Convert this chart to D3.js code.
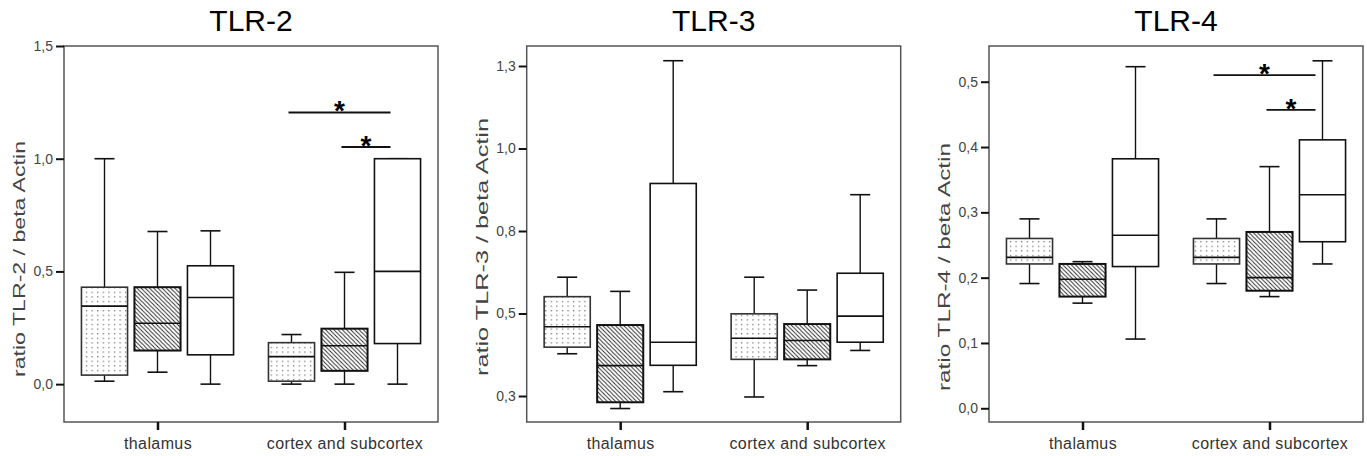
<!DOCTYPE html>
<html>
<head>
<meta charset="utf-8">
<script src="https://cdn.jsdelivr.net/npm/d3@7"></script>
<style>
  html, body { margin: 0; padding: 0; background: #fff; }
  svg { display: block; font-family: "Liberation Sans", Arial, sans-serif; }
</style>
</head>
<body>
<svg id="chart" width="1367" height="456"></svg>
<script>
// ---------------- data ----------------
const categories = ["thalamus", "cortex and subcortex"];
const series = ["dotted", "hatched", "plain"];

// box stats: [min, q1, median, q3, max] per series, per category
const tlr2Thalamus = [[0.013, 0.04, 0.346, 0.43, 1.0], [0.053, 0.149, 0.27, 0.43, 0.677], [0.0, 0.13, 0.384, 0.525, 0.68]];
const tlr2Cortex   = [[0.0, 0.013, 0.122, 0.184, 0.22], [0.0, 0.059, 0.17, 0.246, 0.496], [0.0, 0.18, 0.5, 1.0, 1.0]];
const tlr3Thalamus = [[0.378, 0.398, 0.46, 0.551, 0.61], [0.212, 0.231, 0.342, 0.465, 0.567], [0.263, 0.343, 0.413, 0.894, 1.266]];
const tlr3Cortex   = [[0.247, 0.361, 0.425, 0.499, 0.61], [0.342, 0.361, 0.418, 0.468, 0.571], [0.388, 0.413, 0.492, 0.622, 0.86]];
const tlr4Thalamus = [[0.191, 0.221, 0.231, 0.26, 0.29], [0.161, 0.171, 0.1975, 0.221, 0.2245], [0.106, 0.217, 0.265, 0.382, 0.523]];
const tlr4Cortex   = [[0.191, 0.221, 0.231, 0.26, 0.29], [0.171, 0.18, 0.2, 0.27, 0.37], [0.221, 0.255, 0.327, 0.411, 0.532]];

const tlr2Ticks = [0, 0.5, 1.0, 1.5];
const tlr2TickLabels = ["0,0", "0,5", "1,0", "1,5"];
const tlr3Ticks = [0.25, 0.5, 0.75, 1.0, 1.25];
const tlr3TickLabels = ["0,3", "0,5", "0,8", "1,0", "1,3"];
const tlr4Ticks = [0, 0.1, 0.2, 0.3, 0.4, 0.5];
const tlr4TickLabels = ["0,0", "0,1", "0,2", "0,3", "0,4", "0,5"];

// significance bars: [category index, from series, to series, value]
const tlr2Sig = [[1, 0, 2, 1.205], [1, 1, 2, 1.052]];
const tlr4Sig = [[1, 0, 2, 0.51], [1, 1, 2, 0.457]];

const titles = ["TLR-2", "TLR-3", "TLR-4"];
const yLabels = ["ratio TLR-2 / beta Actin", "ratio TLR-3 / beta Actin", "ratio TLR-4 / beta Actin"];

// ---------------- layout ----------------
const panels = [
  { title: titles[0], ylabel: yLabels[0], left: 64,    domain: [-0.168, 1.5],    ticks: tlr2Ticks, tickLabels: tlr2TickLabels, data: [tlr2Thalamus, tlr2Cortex], sig: tlr2Sig, labelY: 259, labelLen: 236 },
  { title: titles[1], ylabel: yLabels[1], left: 526.7, domain: [0.1712, 1.3106], ticks: tlr3Ticks, tickLabels: tlr3TickLabels, data: [tlr3Thalamus, tlr3Cortex], sig: [],      labelY: 247, labelLen: 258 },
  { title: titles[2], ylabel: yLabels[2], left: 989,   domain: [-0.021, 0.5547], ticks: tlr4Ticks, tickLabels: tlr4TickLabels, data: [tlr4Thalamus, tlr4Cortex], sig: tlr4Sig, labelY: 267, labelLen: 248 }
];
const frameW = 374, frameTop = 46, frameBottom = 422;

const svg = d3.select("#chart");
const defs = svg.append("defs");

// dotted pattern
const pd = defs.append("pattern").attr("id", "dots").attr("patternUnits", "userSpaceOnUse")
  .attr("width", 5.6).attr("height", 4.6);
pd.append("rect").attr("width", 5.6).attr("height", 4.6).attr("fill", "#fff");
pd.append("rect").attr("x", 2).attr("y", 2).attr("width", 1.1).attr("height", 1.1).attr("fill", "#444");

// hatched pattern (lines going down-right)
const ph = defs.append("pattern").attr("id", "hatch").attr("patternUnits", "userSpaceOnUse")
  .attr("width", 4.2).attr("height", 4.2);
ph.append("rect").attr("width", 4.2).attr("height", 4.2).attr("fill", "#fff");
ph.append("path").attr("d", "M-1,-1 L5.2,5.2 M-1,3.2 L1,5.2 M3.2,-1 L5.2,1")
  .attr("stroke", "#222").attr("stroke-width", 0.9);

const fills = { dotted: "url(#dots)", hatched: "url(#hatch)", plain: "#fff" };

panels.forEach(p => {
  const L = p.left, R = L + frameW;
  const g = svg.append("g");
  const y = d3.scaleLinear().domain(p.domain).range([frameBottom, frameTop]);
  const x = d3.scalePoint().domain(categories).range([L, R]).padding(0.5);
  const inner = d3.scaleBand().domain(series).range([-79.5, 79.5]).paddingInner(0.13).paddingOuter(0.065);
  const bw = inner.bandwidth();
  const capW = 20;

  // frame
  g.append("rect").attr("x", L).attr("y", frameTop).attr("width", frameW).attr("height", frameBottom - frameTop)
    .attr("fill", "none").attr("stroke", "#555").attr("stroke-width", 1.5);

  // y axis
  const ya = g.append("g").attr("transform", `translate(${L},0)`)
    .call(d3.axisLeft(y).tickValues(p.ticks).tickFormat((d, i) => p.tickLabels[i]).tickSize(8).tickPadding(3));
  ya.select(".domain").remove();
  ya.selectAll(".tick line").attr("stroke", "#111").attr("stroke-width", 2);
  ya.selectAll(".tick text").attr("font-size", 14).attr("fill", "#444")
    .attr("font-family", "'Liberation Sans', Arial, sans-serif");

  // x axis
  const xa = g.append("g").attr("transform", `translate(0,${frameBottom})`)
    .call(d3.axisBottom(x).tickSize(8).tickPadding(8));
  xa.select(".domain").remove();
  xa.selectAll(".tick line").attr("stroke", "#111").attr("stroke-width", 2.5);
  xa.selectAll(".tick text").attr("font-size", 16).attr("fill", "#333")
    .attr("letter-spacing", 0.4)
    .attr("font-family", "'Liberation Sans', Arial, sans-serif");

  // title
  g.append("text").attr("x", (L + R) / 2).attr("y", 31).attr("text-anchor", "middle")
    .attr("font-size", 30).attr("fill", "#000").text(p.title);

  // y label
  g.append("text").attr("transform", `translate(${L - 43},${p.labelY}) rotate(-90)`)
    .attr("text-anchor", "middle").attr("dominant-baseline", "middle")
    .attr("font-size", 16.5).attr("fill", "#444")
    .attr("textLength", p.labelLen).attr("lengthAdjust", "spacingAndGlyphs")
    .text(p.ylabel);

  // boxes
  categories.forEach((cat, ci) => {
    series.forEach((s, si) => {
      const st = p.data[ci][si];
      const cx = x(cat) + inner(s) + bw / 2;
      const bg = g.append("g");
      const sw = s === "hatched" ? 2 : 1.6;
      // whiskers
      bg.append("line").attr("x1", cx).attr("x2", cx).attr("y1", y(st[3])).attr("y2", y(st[4])).attr("stroke", "#111").attr("stroke-width", 1.4);
      bg.append("line").attr("x1", cx).attr("x2", cx).attr("y1", y(st[0])).attr("y2", y(st[1])).attr("stroke", "#111").attr("stroke-width", 1.4);
      bg.append("line").attr("x1", cx - capW / 2).attr("x2", cx + capW / 2).attr("y1", y(st[4])).attr("y2", y(st[4])).attr("stroke", "#111").attr("stroke-width", 1.6);
      bg.append("line").attr("x1", cx - capW / 2).attr("x2", cx + capW / 2).attr("y1", y(st[0])).attr("y2", y(st[0])).attr("stroke", "#111").attr("stroke-width", 1.6);
      // box
      bg.append("rect").attr("x", cx - bw / 2).attr("y", y(st[3])).attr("width", bw).attr("height", y(st[1]) - y(st[3]))
        .attr("fill", fills[s]).attr("stroke", s === "dotted" ? "#333" : "#111").attr("stroke-width", sw);
      // median
      bg.append("line").attr("x1", cx - bw / 2).attr("x2", cx + bw / 2).attr("y1", y(st[2])).attr("y2", y(st[2])).attr("stroke", "#111").attr("stroke-width", 1.6);
    });
  });

  // significance bars
  p.sig.forEach(sg => {
    const cat = categories[sg[0]];
    const x1 = x(cat) + inner(series[sg[1]]) + bw / 2 - 3;
    const x2 = x(cat) + inner(series[sg[2]]) + bw / 2 - 7;
    const yy = y(sg[3]);
    g.append("line").attr("x1", x1).attr("x2", x2).attr("y1", yy).attr("y2", yy).attr("stroke", "#111").attr("stroke-width", 1.8);
    g.append("text").attr("x", (x1 + x2) / 2).attr("y", yy + 8).attr("text-anchor", "middle")
      .attr("font-size", 28).attr("font-weight", "bold").attr("fill", "#000").text("*");
  });
});
</script>
</body>
</html>
